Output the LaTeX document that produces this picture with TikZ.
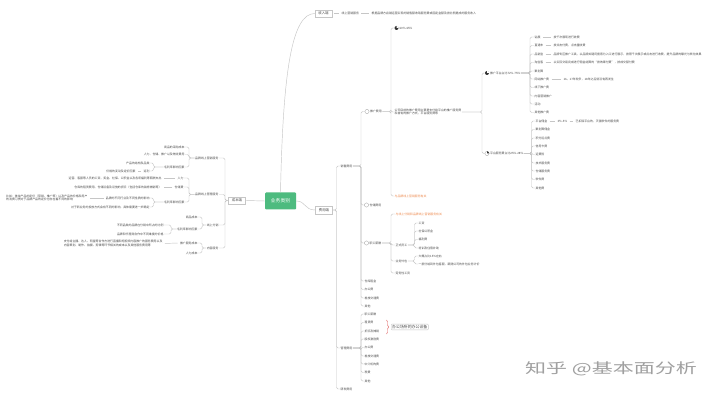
\documentclass[tikz,border=0pt]{standalone}
\usepackage{fontspec}
\usepackage{graphicx}
\setmainfont{Noto Sans CJK SC}
\usetikzlibrary{decorations.pathreplacing}
\definecolor{lineg}{HTML}{C6C6C6}
\definecolor{txt}{HTML}{4A4A4A}
\definecolor{rootg}{HTML}{4DBB7F}
\definecolor{orng}{HTML}{EE8A4E}
\definecolor{bracered}{HTML}{E05A5A}
\definecolor{wmc}{HTML}{A0A0A0}
\newcommand\conR[3]{\draw[conn] (#1.east) -- (#1.east -| #2,0) |- (#3.west);}
\newcommand\conL[3]{\draw[conn] (#1.west) -- (#1.west -| #2,0) |- (#3.east);}
\begin{document}
\begin{tikzpicture}[x=1pt,y=-1pt,
  conn/.style={draw=lineg, line width=0.45pt, rounded corners=1.5pt},
  lnk/.style={draw=lineg, line width=0.45pt, shorten <=1.8pt, shorten >=1.8pt},
  t/.style={inner sep=0.4pt, text=txt, font=\fontsize{2.9}{3.7}\selectfont},
  tr/.style={t, anchor=west},
  tl/.style={t, anchor=east},
  tml/.style={tl, align=left},
  tmr/.style={tr, align=left},
  org/.style={tr, text=orng},
  lvl1/.style={draw=lineg, line width=0.4pt, fill=white, text=txt, minimum width=17pt, minimum height=7.5pt, inner sep=0.5pt, font=\fontsize{3.4}{4}\selectfont},
  root/.style={fill=rootg, text=white, rounded corners=1pt, minimum width=31pt, minimum height=17pt, inner sep=0.5pt, font=\fontsize{4.8}{5.5}\selectfont},
  ico/.style={circle, draw=gray!75, line width=0.3pt, minimum size=4.2pt, inner sep=0pt, fill=white},
  pie/.style={circle, fill=black!80, minimum size=4pt, inner sep=0pt},
  infobox/.style={draw=lineg, line width=0.4pt, rounded corners=0.8pt, text=txt, inner sep=1pt, font=\fontsize{3.9}{4.5}\selectfont},
  wmk/.style={text=wmc, inner sep=0pt, font=\fontsize{14}{16}\selectfont},
]
\fill[white] (0,0) rectangle (720,403);
\useasboundingbox (0,0) rectangle (720,403);

% ---------- centre ----------
\node[root] (root) at (280.5,201) {业务类别};
\node[lvl1] (sr) at (323.5,13.5) {收入端};
\node[lvl1] (cb) at (237,200.5) {成本端};
\node[lvl1] (fy) at (324,210) {费用端};
\draw[conn] (root.north) .. controls (283,70) and (292,13.5) .. (sr.west);
\draw[conn] (root.east) .. controls (306,201) and (304,210) .. (fy.west);
\draw[conn] (root.west) -- (cb.east);

% ---------- income ----------
\node[tr] (xsyx) at (341,13.5) {线上营销服务};
\node[tr] (xsyxd) at (371,13.5) {根据品牌方店铺运营实现的销售额收取服务费或固定金额及按比例提成的服务收入};
\draw[lnk] (sr.east) -- (xsyx.west);
\draw[lnk] (xsyx.east) -- (xsyxd.west);

% ---------- expense ----------
\node[tr] (xs) at (340,166) {销售费用};
\node[tr] (gl) at (340,348) {管理费用};
\node[tr] (yf) at (340,389) {研发费用};
\conR{fy}{336.5}{xs}
\conR{fy}{336.5}{gl}
\conR{fy}{336.5}{yf}

% sales expense
\node[ico] (tgi) at (367,111.5) {};
\node[tr] (tg) at (369.5,111.5) {推广费用};
\node[ico] (cci) at (366.5,205) {};
\node[tr] (cc) at (369,205) {仓储费用};
\node[ico] (zgi) at (366.5,243) {};
\node[tr] (zg) at (369,243) {职工薪酬};
\node[tr] (ckzj) at (364,281) {仓库租金};
\node[tr] (bgf) at (364,289.5) {办公费};
\node[tr] (clf) at (364,298) {差旅交通费};
\node[tr] (qt) at (364,306) {其他};
\conR{xs}{361}{tgi}
\conR{xs}{361}{cci}
\conR{xs}{361}{zgi}
\conR{xs}{361}{ckzj}
\conR{xs}{361}{bgf}
\conR{xs}{361}{clf}
\conR{xs}{361}{qt}

% promotion
\node[pie] (p60i) at (396.5,28) {};
\fill[white] (p60i.center) -- (p60i.90) -- (p60i.45) -- (p60i.0) -- cycle;
\node[tr] (p60) at (399,28) {60\%-65\%};
\node[tmr] (gs) at (394,112) {公司目前的推广费用主要是支付给平台的推广服务费\\和自有的推广方式，平台服务费等};
\node[org] (yp) at (394,196) {与品牌线上营销服务有关};
\conR{tg}{391}{p60i}
\conR{tg}{391}{gs}
\conR{tg}{391}{yp}

\node[pie] (tgpti) at (487,73) {};
\fill[white] (tgpti.center) -- (tgpti.90) -- (tgpti.45) -- (tgpti.0) -- cycle;
\node[tr] (tgpt) at (489.5,73) {推广平台占比72\%-75\%};
\node[ico] (ptfwi) at (487,153.5) {};
\fill[black!80] (ptfwi.center) -- (ptfwi.90) -- (ptfwi.45) -- (ptfwi.0) -- cycle;
\node[tr] (ptfw) at (489.5,153.5) {平台服务费占比25\%-28\%};
\conR{gs}{482}{tgpti}
\conR{gs}{482}{ptfwi}

% promotion platforms
\node[tr] (zz) at (534,37) {钻展};
\node[tr] (zzd) at (553,37) {按千次展现进行收费};
\node[tr] (ztc) at (534,45.5) {直通车};
\node[tr] (ztcd) at (553,45.5) {按点击付费，点击量收费};
\node[tr] (pxb) at (534,54) {品销宝};
\node[tr] (pxbd) at (553,54) {品牌专区推广工具，以品牌关键词搜索为入口进行展示，按照千次展示或点击进行收费，提升品牌的曝光与转化效果};
\node[tr] (tbk) at (534,62.5) {淘宝客};
\node[tr] (tbkd) at (553,62.5) {以实际交易完成进行佣金结算的“按效果付费”，按成交额付费};
\node[tr] (jhs) at (534,71) {聚划算};
\node[tr] (wz) at (534,79) {网站推广费};
\node[tr] (wzd) at (563,79) {16、17年较多，18年之后就没有再发生};
\node[tr] (xx) at (534,87.5) {线下推广费};
\node[tr] (nryx) at (534,96) {内容营销推广};
\node[tr] (hd) at (534,104) {活动};
\node[tr] (qttg) at (534,112.5) {其他推广费};
\foreach \c in {zz,ztc,pxb,tbk,jhs,wz,xx,nryx,hd,qttg} {\conR{tgpt}{530}{\c}}
\draw[lnk] (zz.east) -- (zzd.west);
\draw[lnk] (ztc.east) -- (ztcd.west);
\draw[lnk] (pxb.east) -- (pxbd.west);
\draw[lnk] (tbk.east) -- (tbkd.west);
\draw[lnk] (wz.east) -- (wzd.west);

% platform service fees
\node[tr] (ptyj) at (535,121) {平台佣金};
\node[tr] (pct) at (557,121) {3\%-5\%};
\node[tr] (pctd) at (575,121) {已扣除平台的，天猫软件的服务费};
\node[tr] (jhsyj) at (535,129.5) {聚划算佣金};
\node[tr] (jf) at (535,138) {积分返点费};
\node[tr] (xyk) at (535,146) {信用卡费};
\node[tr] (yfx) at (535,154.5) {运费险};
\node[tr] (jsfw) at (535,163) {技术服务费};
\node[tr] (ccfw) at (535,171) {仓储服务费};
\node[tr] (rjf) at (535,179.5) {软件费};
\node[tr] (qtf) at (535,188) {其他费};
\foreach \c in {ptyj,jhsyj,jf,xyk,yfx,jsfw,ccfw,rjf,qtf} {\conR{ptfw}{531.5}{\c}}
\draw[lnk] (ptyj.east) -- (pct.west);
\draw[lnk] (pct.east) -- (pctd.west);

% staff pay
\node[org] (zgo) at (395,214) {与线上分销和品牌线上营销服务有关};
\node[tr] (zsyg) at (395,245) {正式员工};
\node[tr] (ywwb) at (395,261) {业务外包};
\node[tr] (lwx) at (395,273) {劳务性工资};
\foreach \c in {zgo,zsyg,ywwb,lwx} {\conR{zg}{391}{\c}}
\node[tr] (gz) at (418,223) {工资};
\node[tr] (sb) at (418,231) {社保公积金};
\node[tr] (flf) at (418,239.5) {福利费};
\node[tr] (px) at (418,248) {培训及住宿补助};
\foreach \c in {gz,sb,flf,px} {\conR{zsyg}{414.5}{\c}}
\node[tr] (zb) at (418,256) {大概占比15\%左右};
\node[tr] (wbkf) at (418,264) {一部分给到外包客服，跟随公司的外包业务计价};
\conR{ywwb}{414.5}{zb}
\conR{ywwb}{414.5}{wbkf}

% admin expense
\node[tr] (glzg) at (364,314) {职工薪酬};
\node[tr] (zlf) at (364,322.5) {租赁费};
\node[tr] (zj) at (364,331) {折旧及摊销};
\node[tr] (gq) at (364,339) {股权激励费};
\node[tr] (glbg) at (364,347.5) {办公费};
\node[tr] (glcl) at (364,356) {差旅交通费};
\node[tr] (zjjg) at (364,364) {中介机构费};
\node[tr] (sf) at (364,372.5) {税费};
\node[tr] (glqt) at (364,381) {其他};
\foreach \c in {glzg,zlf,zj,gq,glbg,glcl,zjjg,sf,glqt} {\conR{gl}{361}{\c}}
\draw[bracered, line width=0.45pt, decorate, decoration={brace, amplitude=2pt}] (386.5,320) -- (386.5,334);
\node[infobox, anchor=west] (bgsb) at (391,327) {办公场所的办公设备};

% ---------- cost ----------
\node[tl] (pp1) at (219,158) {品牌线上营销服务};
\node[tl] (pp2) at (219,194.5) {品牌线上管理服务};
\node[tl] (fx) at (219,225) {线上分销};
\node[tl] (nr) at (219,248) {内容服务};
\foreach \c in {pp1,pp2,fx,nr} {\conL{cb}{225}{\c}}

\node[tl] (cg) at (185,147) {商品的采购成本};
\node[tl] (rl1) at (185,154.5) {人力、仓储、推广以及物流费用};
\node[tl] (mll1) at (185,167) {毛利率影响因素};
\foreach \c in {cg,rl1,mll1} {\conL{pp1}{189}{\c}}
\node[tl] (cpjg) at (150,163) {产品的结构及品类};
\node[tl] (fl) at (150,171) {返利};
\node[tl] (yx) at (136,171) {价格的变动及定价因素};
\conL{mll1}{153.5}{cpjg}
\conL{mll1}{153.5}{fl}
\draw[lnk] (fl.west) -- (yx.east);

\node[tl] (rl2) at (184,178) {人力};
\node[tl] (rl2d) at (162,178) {运营、客服等人员的工资、奖金、社保、公积金以及各项福利等薪酬支出};
\node[tl] (ccf) at (184,187) {仓储费};
\node[tl] (ccfd) at (162,187) {仓库的租赁费用、仓储设备及设施的折旧（包括仓库的装修摊销等）};
\node[tl] (mll2) at (185,202) {毛利率影响因素};
\foreach \c in {rl2,ccf,mll2} {\conL{pp2}{189}{\c}}
\draw[lnk] (rl2.west) -- (rl2d.east);
\draw[lnk] (ccf.west) -- (ccfd.east);
\node[tl] (pz) at (150,198) {品牌的不同行业及不同性质的影响};
\node[tml] (bz) at (88,198) {比如：美妆产品的定价（营销、推广等）以及产品的价格和用户\\的消费习惯对于品牌产品的定价也存在着不同的影响};
\node[tl] (xyw) at (150,207) {对于新业务的投放方式会有不同的影响，具体需要进一步确定};
\conL{mll2}{153.5}{pz}
\conL{mll2}{153.5}{xyw}
\draw[lnk] (pz.west) -- (bz.east);

\node[tl] (spcb) at (198,217) {商品成本};
\node[tl] (mll3) at (198,229) {毛利率影响因素};
\conL{fx}{202}{spcb}
\conL{fx}{202}{mll3}
\node[tl] (bl) at (164,225) {不同品类的品牌在分销中所占的比例};
\node[tl] (jg) at (164,234) {品牌和代理商合作中不同维度的价格};
\conL{mll3}{171}{bl}
\conL{mll3}{171}{jg}

\node[tl] (tgcb) at (198,243) {推广服务成本};
\node[tml] (tgcbd) at (163,243.5) {支付给主播、达人、明星等合作方进行直播和短视频内容推广的服务费用以及\\内容策划、制作、拍摄、剪辑等环节相关的成本以及其他服务费用等};
\node[tl] (rlcb) at (198,253) {人力成本};
\conL{nr}{202}{tgcb}
\conL{nr}{202}{rlcb}
\draw[lnk] (tgcb.west) -- (tgcbd.east);

% ---------- watermark ----------
\node[wmk, anchor=west] (wm) at (525,369) {\scalebox{1.5}[1]{知乎 @基本面分析}};
\end{tikzpicture}
\end{document}
